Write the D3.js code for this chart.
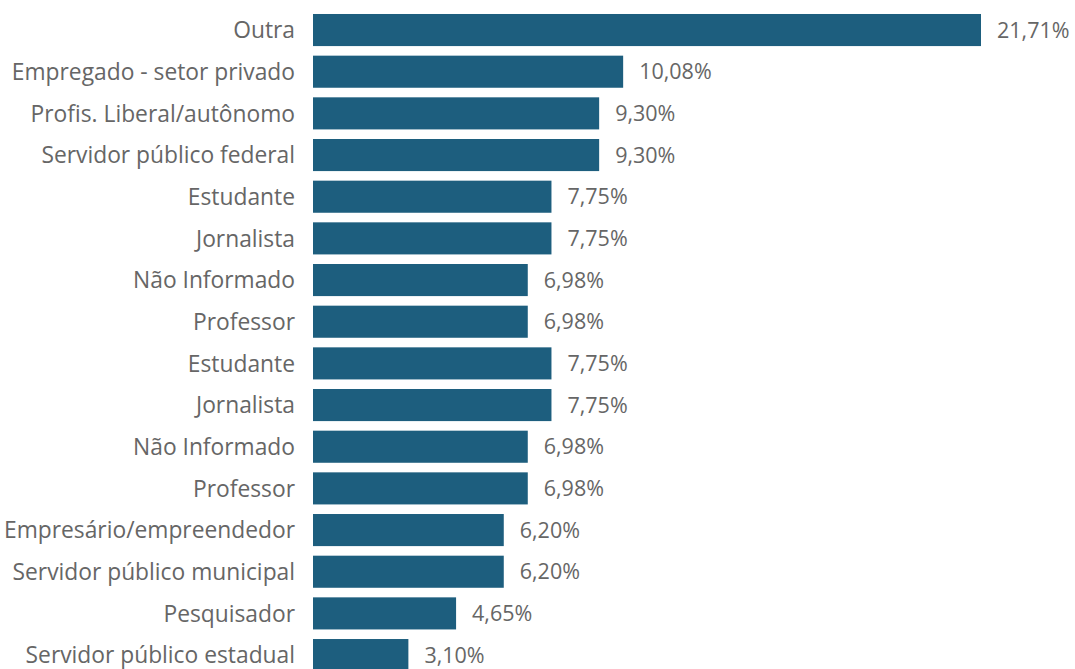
<!DOCTYPE html>
<html>
<head>
<meta charset="utf-8">
<script src="https://cdn.jsdelivr.net/npm/d3@7"></script>
<style>
  html, body { margin: 0; padding: 0; background: #ffffff; overflow: hidden; }
  svg { display: block; }
</style>
</head>
<body>
<svg id="chart" width="1075" height="669"></svg>
<script>
// Occupation categories and their shares (%)
const categories = [
  "Outra",
  "Empregado - setor privado",
  "Profis. Liberal/autônomo",
  "Servidor público federal",
  "Estudante",
  "Jornalista",
  "Não Informado",
  "Professor",
  "Estudante",
  "Jornalista",
  "Não Informado",
  "Professor",
  "Empresário/empreendedor",
  "Servidor público municipal",
  "Pesquisador",
  "Servidor público estadual"
];
const values = [21.71, 10.08, 9.30, 9.30, 7.75, 7.75, 6.98, 6.98, 7.75, 7.75, 6.98, 6.98, 6.20, 6.20, 4.65, 3.10];

const width = 1075, height = 669;
const svg = d3.select("#chart");

const x = d3.scaleLinear().domain([0, 21.71]).range([313, 981]);
const y = d3.scaleBand()
  .domain(d3.range(categories.length))
  .range([9.2, 675.9])
  .paddingInner(0.23)
  .paddingOuter(0.115);

const fmt = v => d3.format(".2f")(v).replace(".", ",") + "%";
const font = "'Open Sans', 'Noto Sans', sans-serif";

const rows = svg.selectAll("g.row")
  .data(values)
  .join("g")
  .attr("class", "row");

rows.append("rect")
  .attr("x", x(0))
  .attr("y", (d, i) => y(i))
  .attr("width", d => x(d) - x(0))
  .attr("height", y.bandwidth())
  .attr("fill", "#1d5e7e");

rows.append("text")
  .attr("x", 295)
  .attr("y", (d, i) => y(i) + y.bandwidth() / 2)
  .attr("dy", "0.36em")
  .attr("text-anchor", "end")
  .attr("font-family", font)
  .attr("font-size", 22.8)
  .attr("fill", "#666666")
  .text((d, i) => categories[i]);

rows.append("text")
  .attr("x", d => x(d) + 16)
  .attr("y", (d, i) => y(i) + y.bandwidth() / 2)
  .attr("dy", "0.36em")
  .attr("text-anchor", "start")
  .attr("font-family", font)
  .attr("font-size", 21.5)
  .attr("fill", "#666666")
  .text(d => fmt(d));
</script>
</body>
</html>
